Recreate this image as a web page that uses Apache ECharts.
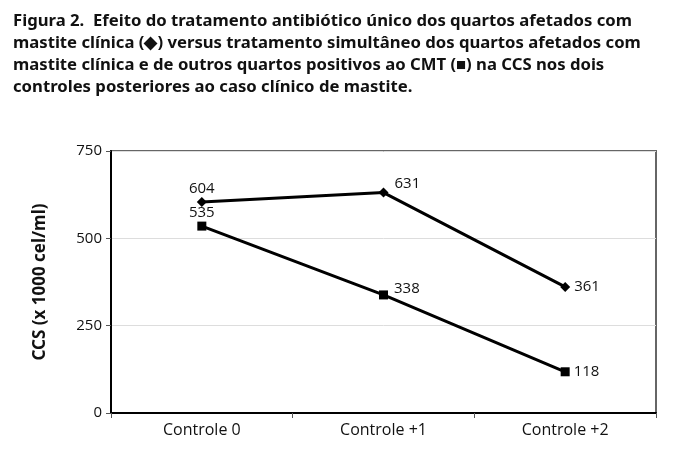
<!DOCTYPE html>
<html>
<head>
<meta charset="utf-8">
<script src="https://cdn.jsdelivr.net/npm/echarts@6/dist/echarts.min.js"></script>
<style>
  html, body { margin: 0; padding: 0; background: #fff; }
  #chart { width: 677px; height: 467px; }
</style>
</head>
<body>
<div id="chart"></div>
<script>
  const categories = ['Controle 0', 'Controle +1', 'Controle +2']
  const unico = [604, 631, 361]
  const simultaneo = [535, 338, 118]
  const yTicks = [0, 250, 500, 750]

  const titleText = 'Figura 2.  Efeito do tratamento antibiótico único dos quartos afetados com\n' +
    'mastite clínica (\u25C6) versus tratamento simultâneo dos quartos afetados com\n' +
    'mastite clínica e de outros quartos positivos ao CMT (\u25A0) na CCS nos dois\n' +
    'controles posteriores ao caso clínico de mastite.'

  const labelStyle = {
    show: true,
    fontSize: 15,
    fontFamily: 'Open Sans',
    color: '#111',
    position: 'right',
    distance: 4
  }

  let chart = echarts.init(document.getElementById('chart'))
  chart.setOption({
    animation: false,
    title: {
      left: 8,
      top: 5,
      text: titleText,
      textStyle: {
        fontFamily: 'Noto Sans',
        fontWeight: 'bold',
        fontSize: 16.7,
        lineHeight: 22,
        color: '#111'
      }
    },
    grid: {
      left: 111,
      right: 21,
      top: 151,
      bottom: 54,
      show: true,
      borderColor: '#666',
      borderWidth: 2
    },
    xAxis: {
      type: 'category',
      data: categories,
      boundaryGap: true,
      axisLine: { lineStyle: { color: '#000', width: 2 } },
      axisTick: { show: true, length: 5, lineStyle: { color: '#555' } },
      axisLabel: { color: '#111', fontSize: 16, fontFamily: 'Open Sans', margin: 9 }
    },
    yAxis: {
      type: 'value',
      min: yTicks[0],
      max: yTicks[yTicks.length - 1],
      interval: 250,
      name: 'CCS (x 1000 cel/ml)',
      nameLocation: 'middle',
      nameGap: 62,
      nameTextStyle: { fontFamily: 'Noto Sans', fontWeight: 'bold', fontSize: 17, color: '#111' },
      axisLine: { show: true, lineStyle: { color: '#000', width: 2 } },
      axisTick: { show: true, length: 5, lineStyle: { color: '#555' } },
      axisLabel: { color: '#111', fontSize: 15, fontFamily: 'Open Sans', margin: 9 },
      splitLine: { show: true, lineStyle: { color: '#ddd' } }
    },
    series: [{
      name: 'único',
      type: 'line',
      data: unico.map((v, i) => i === 0 ? { value: v, label: { position: 'top', distance: 1 } }
        : i === 1 ? { value: v, label: { offset: [2, -9] } } : v),
      symbol: 'diamond',
      symbolSize: 10,
      itemStyle: { color: '#000' },
      lineStyle: { color: '#000', width: 3 },
      label: labelStyle
    }, {
      name: 'simultâneo',
      type: 'line',
      data: simultaneo.map((v, i) => i === 0 ? { value: v, label: { position: 'top', distance: 1 } }
        : i === 1 ? { value: v, label: { offset: [2, -6] } } : v),
      symbol: 'rect',
      symbolSize: 9,
      itemStyle: { color: '#000' },
      lineStyle: { color: '#000', width: 3 },
      label: labelStyle
    }]
  })
</script>
</body>
</html>
